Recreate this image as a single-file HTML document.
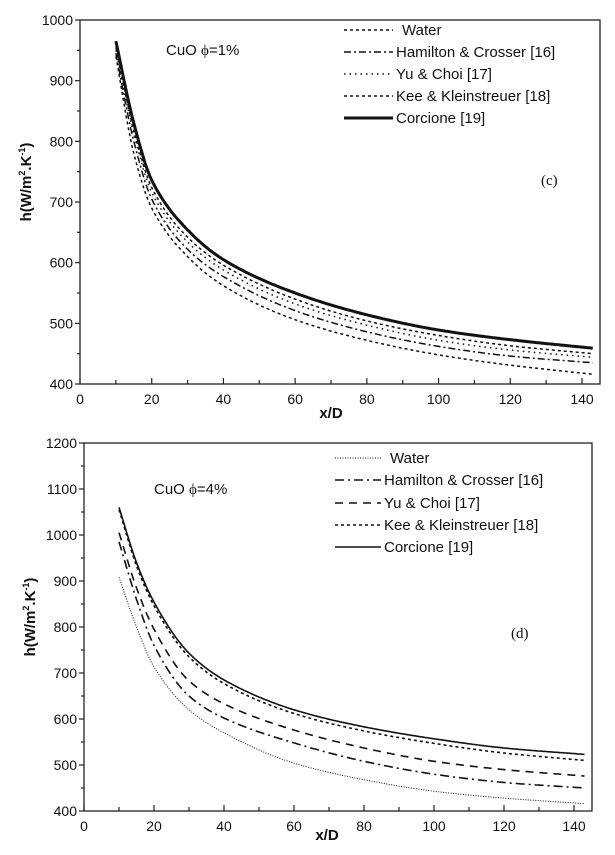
<!DOCTYPE html>
<html><head><meta charset="utf-8"><style>
html,body{margin:0;padding:0;background:#fff;}
svg text{font-family:"Liberation Sans",sans-serif;fill:#111;}
</style></head><body>
<svg id="s" width="615" height="850" xmlns="http://www.w3.org/2000/svg"></svg>
<script>
const xsTop = [10,15,20,30,40,60,80,100,120,143];
const corcioneTop = [965,830,736,654,605,550,514,489,473,459];
const keeTop = [955,818,724,642,596,540,504,480,463,450];
const yuTop = [950,812,716,634,588,532,497,472,456,444];
const hcTop = [945,800,705,622,577,521,486,462,446,435];
const waterTop = [940,780,690,610,562,506,472,448,431,416];
const yTicksTop = [400,500,600,700,800,900,1000];

const xsBot = [10,15,20,30,40,60,80,100,120,143];
const corcioneBot = [1060,940,854,743,685,620,583,557,537,523];
const keeBot = [1055,933,846,735,677,612,574,547,526,510];
const yuBot = [1005,885,795,683,633,576,537,508,490,476];
const hcBot = [985,860,760,650,602,548,508,480,462,450];
const waterBot = [908,800,713,620,570,504,468,443,428,416];
const yTicksBot = [400,500,600,700,800,900,1000,1100,1200];
const xTicks = [0,20,40,60,80,100,120,140];

const NS="http://www.w3.org/2000/svg";
const svg=document.getElementById('s');
function mk(tag,attrs,parent){const e=document.createElementNS(NS,tag);for(const k in attrs)e.setAttribute(k,attrs[k]);(parent||svg).appendChild(e);return e;}
function txt(s,attrs,parent){const e=mk('text',attrs,parent);e.textContent=s;return e;}

// monotone cubic Hermite interpolation (Fritsch-Carlson)
function monotone(xs,ys){
  const n=xs.length,d=[],m=new Array(n);
  for(let i=0;i<n-1;i++)d.push((ys[i+1]-ys[i])/(xs[i+1]-xs[i]));
  m[0]=d[0];m[n-1]=d[n-2];
  for(let i=1;i<n-1;i++){
    if(d[i-1]*d[i]<=0)m[i]=0;
    else{const h0=xs[i]-xs[i-1],h1=xs[i+1]-xs[i];const w1=2*h1+h0,w2=h1+2*h0;m[i]=(w1+w2)/(w1/d[i-1]+w2/d[i]);}
  }
  return function(x){
    let i=0;while(i<n-2&&x>xs[i+1])i++;
    const h=xs[i+1]-xs[i],t=(x-xs[i])/h;
    const h00=2*t*t*t-3*t*t+1,h10=t*t*t-2*t*t+t,h01=-2*t*t*t+3*t*t,h11=t*t*t-t*t;
    return h00*ys[i]+h10*h*m[i]+h01*ys[i+1]+h11*h*m[i+1];
  };
}

function chart(cfg){
  const g=mk('g',{});
  
  
  const X=v=>cfg.L+v*cfg.xs;
  const Y=v=>cfg.B-(v-cfg.ymin)/(cfg.ymax-cfg.ymin)*(cfg.B-cfg.T);
  const frame=mk('rect',{x:cfg.L,y:cfg.T,width:cfg.R-cfg.L,height:cfg.B-cfg.T,fill:'none',stroke:'#222','stroke-width':1.3},g);
  
  
  cfg.yTicks.forEach((v,i)=>{
    mk('line',{x1:cfg.L-5,x2:cfg.L,y1:Y(v),y2:Y(v),stroke:'#222','stroke-width':1.2},g);
    if(i<cfg.yTicks.length-1){const m=(v+cfg.yTicks[i+1])/2;mk('line',{x1:cfg.L-3,x2:cfg.L,y1:Y(m),y2:Y(m),stroke:'#222','stroke-width':1.2},g);}
    const t=txt(String(v),{x:cfg.L-7,y:Y(v)+5,'text-anchor':'end','font-size':14},g);
    
    
  });
  xTicks.forEach((v,i)=>{
    mk('line',{x1:X(v),x2:X(v),y1:cfg.B,y2:cfg.B-6,stroke:'#222','stroke-width':1.2},g);
    if(i<xTicks.length-1)mk('line',{x1:X(v+10),x2:X(v+10),y1:cfg.B,y2:cfg.B-4,stroke:'#222','stroke-width':1.2},g);
    const t=txt(String(v),{x:X(v),y:cfg.B+20,'text-anchor':'middle','font-size':14},g);
    
    
  });
  const xt=txt('x/D',{x:cfg.xtX,y:cfg.xtY,'text-anchor':'middle','font-size':15,'font-weight':'bold'},g);
  
  
  const yt=mk('text',{x:0,y:0,transform:'translate('+cfg.ytX+','+cfg.ytY+') rotate(-90)','text-anchor':'middle','font-size':15,'font-weight':'bold'},g);
  yt.innerHTML='h(W/m<tspan font-size="9" dy="-6">2</tspan><tspan dy="6">.K</tspan><tspan font-size="9" dy="-6">-1</tspan><tspan dy="6">)</tspan>';
  
  
  const ann=mk('text',{x:cfg.annX,y:cfg.annY,'font-size':15},g);
  ann.innerHTML='CuO <tspan font-family="Liberation Serif,serif">&#981;</tspan>='+cfg.pct;
  
  
  const pl=txt(cfg.panel,{x:cfg.panX,y:cfg.panY,'font-size':15,style:'font-family:"Liberation Serif",serif'},g);
  
  
  cfg.series.forEach((s,i)=>{
    const f=monotone(cfg.x,s.v);
    const x0=cfg.x[0],x1=cfg.x[cfg.x.length-1];
    let d='';
    for(let xv=x0;xv<=x1+1e-6;xv+=0.5){d+=(d?' L':'M')+X(xv).toFixed(1)+','+Y(f(xv)).toFixed(1);}
    const p=mk('path',{d:d,fill:'none',stroke:'#111','stroke-width':s.w,'stroke-dasharray':s.dash},g);
    
    
    const ly=cfg.legY[i];
    const ll=mk('line',{x1:cfg.legX1,x2:cfg.legX2,y1:ly-5,y2:ly-5,stroke:'#111','stroke-width':s.w,'stroke-dasharray':s.dash},g);
    
    
    const lt=txt(s.label,{x:cfg.legX2+(i==0?9:3),y:ly,'font-size':15},g);
    
    
  });
}

chart({name:'chart-c',L:80,R:600,T:20,B:384,xs:(582-80)/140,ymin:400,ymax:1000,yTicks:yTicksTop,x:xsTop,
  xtX:331,xtY:418,ytX:31,ytY:182,annX:166,annY:55,pct:'1%',panel:'(c)',panX:541,panY:185,
  legX1:344,legX2:393,legY:[35,57,79,101,123],
  series:[
    {key:'water',label:'Water',v:waterTop,w:1.5,dash:'3,3'},
    {key:'hamilton-crosser',label:'Hamilton & Crosser [16]',v:hcTop,w:1.5,dash:'7,3,2,3'},
    {key:'yu-choi',label:'Yu & Choi [17]',v:yuTop,w:1.5,dash:'1.5,4'},
    {key:'kee-kleinstreuer',label:'Kee & Kleinstreuer [18]',v:keeTop,w:1.5,dash:'3,3'},
    {key:'corcione',label:'Corcione [19]',v:corcioneTop,w:3,dash:'none'}
  ]});

chart({name:'chart-d',L:84,R:592,T:443,B:811,xs:3.5,ymin:400,ymax:1200,yTicks:yTicksBot,x:xsBot,
  xtX:327,xtY:840,ytX:35,ytY:617,annX:154,annY:494,pct:'4%',panel:'(d)',panX:511,panY:638,
  legX1:335,legX2:381,legY:[463,485,508,530,552],
  series:[
    {key:'water',label:'Water',v:waterBot,w:1,dash:'1,1.5'},
    {key:'hamilton-crosser',label:'Hamilton & Crosser [16]',v:hcBot,w:1.6,dash:'9,4,2,4'},
    {key:'yu-choi',label:'Yu & Choi [17]',v:yuBot,w:1.6,dash:'8,6'},
    {key:'kee-kleinstreuer',label:'Kee & Kleinstreuer [18]',v:keeBot,w:1.6,dash:'3,3'},
    {key:'corcione',label:'Corcione [19]',v:corcioneBot,w:1.6,dash:'none'}
  ]});
</script>
</body></html>
